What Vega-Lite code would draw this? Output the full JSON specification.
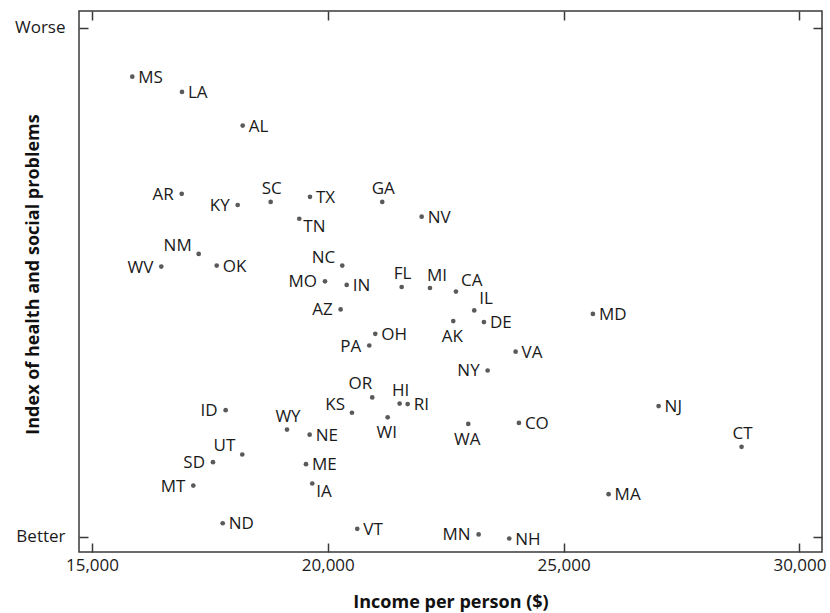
{
  "$schema": "https://vega.github.io/schema/vega-lite/v6.json",
  "width": 743,
  "height": 541,
  "autosize": {"type": "none"},
  "padding": {"left": 79, "top": 11, "right": 8, "bottom": 61},
  "background": "white",
  "config": {
    "view": {"stroke": "#3a3a3a", "strokeWidth": 1.5},
    "font": "Open Sans",
    "axis": {"grid": false, "domain": false, "tickColor": "#3a3a3a", "tickWidth": 1.5, "tickSize": -9, "labelFont": "Open Sans", "labelFontSize": 17, "labelColor": "#1a1a1a", "titleFont": "Open Sans", "titleFontSize": 18, "titleFontWeight": "bold", "titleColor": "#111111"},
    "text": {"font": "Open Sans", "fontSize": 17, "color": "#1a1a1a"}
  },
  "data": {"values": [
    {"state": "MS", "income": 15854, "index": 90.4},
    {"state": "LA", "income": 16908, "index": 87.4},
    {"state": "AL", "income": 18195, "index": 80.8},
    {"state": "AR", "income": 16902, "index": 67.4},
    {"state": "KY", "income": 18089, "index": 65.2},
    {"state": "SC", "income": 18788, "index": 65.8},
    {"state": "TX", "income": 19622, "index": 66.8},
    {"state": "TN", "income": 19395, "index": 62.5},
    {"state": "GA", "income": 21154, "index": 65.8},
    {"state": "NV", "income": 21990, "index": 62.9},
    {"state": "NM", "income": 17262, "index": 55.6},
    {"state": "WV", "income": 16469, "index": 53.1},
    {"state": "OK", "income": 17644, "index": 53.3},
    {"state": "NC", "income": 20306, "index": 53.3},
    {"state": "MO", "income": 19940, "index": 50.2},
    {"state": "IN", "income": 20400, "index": 49.5},
    {"state": "FL", "income": 21566, "index": 49.1},
    {"state": "MI", "income": 22166, "index": 48.9},
    {"state": "CA", "income": 22717, "index": 48.2},
    {"state": "IL", "income": 23105, "index": 44.5},
    {"state": "DE", "income": 23310, "index": 42.2},
    {"state": "AK", "income": 22660, "index": 42.4},
    {"state": "AZ", "income": 20272, "index": 44.7},
    {"state": "OH", "income": 21006, "index": 39.9},
    {"state": "PA", "income": 20879, "index": 37.6},
    {"state": "VA", "income": 23982, "index": 36.4},
    {"state": "MD", "income": 25621, "index": 43.8},
    {"state": "NY", "income": 23389, "index": 32.7},
    {"state": "OR", "income": 20942, "index": 27.4},
    {"state": "HI", "income": 21523, "index": 26.2},
    {"state": "RI", "income": 21693, "index": 26.1},
    {"state": "KS", "income": 20512, "index": 24.4},
    {"state": "WI", "income": 21269, "index": 23.5},
    {"state": "WA", "income": 22978, "index": 22.2},
    {"state": "CO", "income": 24052, "index": 22.4},
    {"state": "NJ", "income": 27014, "index": 25.7},
    {"state": "CT", "income": 28773, "index": 17.7},
    {"state": "ID", "income": 17834, "index": 24.9},
    {"state": "WY", "income": 19134, "index": 21.1},
    {"state": "NE", "income": 19615, "index": 20.1},
    {"state": "UT", "income": 18186, "index": 16.2},
    {"state": "SD", "income": 17565, "index": 14.7},
    {"state": "ME", "income": 19537, "index": 14.3},
    {"state": "MT", "income": 17148, "index": 10.1},
    {"state": "IA", "income": 19670, "index": 10.5},
    {"state": "MA", "income": 25954, "index": 8.4},
    {"state": "ND", "income": 17771, "index": 2.7},
    {"state": "VT", "income": 20624, "index": 1.6},
    {"state": "MN", "income": 23198, "index": 0.5},
    {"state": "NH", "income": 23847, "index": -0.3}
  ]},
  "encoding": {
    "x": {"field": "income", "type": "quantitative", "scale": {"domain": [14724, 30479], "nice": false, "zero": false}, "axis": null},
    "y": {"field": "index", "type": "quantitative", "scale": {"domain": [-2.95, 103.3], "nice": false, "zero": false}, "axis": null}
  },
  "layer": [
    {
      "mark": {"type": "circle", "size": 22, "color": "#5a5a5a", "opacity": 1},
      "encoding": {
        "x": {"field": "income", "type": "quantitative", "scale": {"domain": [14724, 30479], "nice": false, "zero": false}, "axis": {"orient": "bottom", "values": [15000, 20000, 25000, 30000], "format": ",.0f", "labelPadding": 14, "title": "Income per person ($)", "titleY": 50, "titleBaseline": "middle"}},
        "y": {"field": "index", "type": "quantitative", "scale": {"domain": [-2.95, 103.3], "nice": false, "zero": false}, "axis": {"orient": "left", "values": [0, 100], "labelExpr": "datum.value == 100 ? 'Worse' : 'Better'", "labelPadding": 23, "title": "Index of health and social problems", "titleX": -46, "titleY": 263, "titleBaseline": "middle", "titleAlign": "center", "titleAngle": 270}}
      }
    },
    {
      "mark": {"type": "point", "opacity": 0},
      "encoding": {
        "x": {"field": "income", "type": "quantitative", "scale": {"domain": [14724, 30479], "nice": false, "zero": false}, "axis": {"orient": "top", "values": [15000, 20000, 25000, 30000], "labels": false, "title": null}},
        "y": {"field": "index", "type": "quantitative", "scale": {"domain": [-2.95, 103.3], "nice": false, "zero": false}, "axis": {"orient": "right", "values": [0, 100], "labels": false, "title": null}}
      }
    },
    {
      "transform": [{"filter": {"field": "state", "oneOf": ["MS", "LA", "AL", "TX", "NV", "OK", "IN", "DE", "OH", "VA", "MD", "CO", "NE", "ME", "VT", "NH", "NJ", "MA", "ND", "RI"]}}],
      "mark": {"type": "text", "align": "left", "baseline": "middle", "dx": 6, "dy": 1},
      "encoding": {"text": {"field": "state"}}
    },
    {
      "transform": [{"filter": {"field": "state", "oneOf": ["AR", "KY", "WV", "MO", "AZ", "NY", "ID", "SD", "MT", "MN", "PA"]}}],
      "mark": {"type": "text", "align": "right", "baseline": "middle", "dx": -8, "dy": 1},
      "encoding": {"text": {"field": "state"}}
    },
    {
      "transform": [{"filter": {"field": "state", "oneOf": ["SC", "GA", "FL", "HI", "CT", "WY"]}}],
      "mark": {"type": "text", "align": "center", "baseline": "middle", "dx": 1, "dy": -13},
      "encoding": {"text": {"field": "state"}}
    },
    {
      "transform": [{"filter": {"field": "state", "oneOf": ["AK", "WI", "WA"]}}],
      "mark": {"type": "text", "align": "center", "baseline": "middle", "dx": -1, "dy": 16},
      "encoding": {"text": {"field": "state"}}
    },
    {
      "transform": [{"filter": {"field": "state", "oneOf": ["NC", "NM", "KS", "UT"]}}],
      "mark": {"type": "text", "align": "right", "baseline": "middle", "dx": -7, "dy": -8},
      "encoding": {"text": {"field": "state"}}
    },
    {
      "transform": [{"filter": {"field": "state", "oneOf": ["OR"]}}],
      "mark": {"type": "text", "align": "right", "baseline": "middle", "dx": 0, "dy": -13},
      "encoding": {"text": {"field": "state"}}
    },
    {
      "transform": [{"filter": {"field": "state", "oneOf": ["CA", "IL"]}}],
      "mark": {"type": "text", "align": "left", "baseline": "middle", "dx": 5, "dy": -11},
      "encoding": {"text": {"field": "state"}}
    },
    {
      "transform": [{"filter": {"field": "state", "oneOf": ["MI"]}}],
      "mark": {"type": "text", "align": "center", "baseline": "middle", "dx": 7, "dy": -12},
      "encoding": {"text": {"field": "state"}}
    },
    {
      "transform": [{"filter": {"field": "state", "oneOf": ["TN", "IA"]}}],
      "mark": {"type": "text", "align": "left", "baseline": "middle", "dx": 4, "dy": 8},
      "encoding": {"text": {"field": "state"}}
    }
  ],
  "resolve": {"axis": {"x": "independent", "y": "independent"}}
}
